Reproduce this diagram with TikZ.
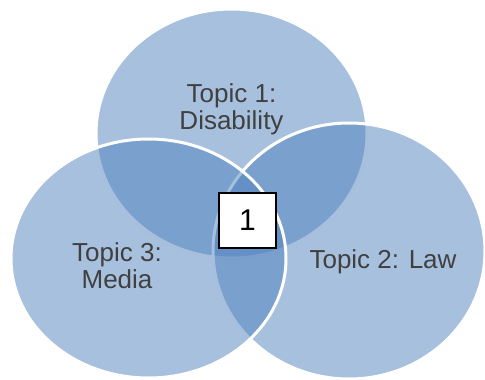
\documentclass[tikz,border=0pt]{standalone}
\usepackage{fontspec}
\setmainfont{Liberation Sans}
\definecolor{vennBlue}{RGB}{79, 129, 189}
\definecolor{labelGray}{RGB}{64, 64, 64}
\usepackage{tikz}
\usetikzlibrary{shapes,positioning}

\tikzset{
    venn/.style={ellipse, fill=vennBlue, fill opacity=0.5, draw=white, line width=3pt, inner sep=0pt},
    topiclabel/.style={text=labelGray, align=center, font=\fontsize{26}{27}\selectfont},
    corebox/.style={draw=black, fill=white, line width=2pt, minimum width=57pt, minimum height=55pt, font=\fontsize{30}{32}\selectfont}
}

\begin{document}
\begin{tikzpicture}[x=1pt,y=-1pt]
                \useasboundingbox (0,0) rectangle (485,380);
                % three overlapping topic sets
                \node[venn, minimum width=271pt, minimum height=249pt] (disability) at (231.5,133.5) {};
                \node[venn, minimum width=272pt, minimum height=256pt] (law) at (349,251) {};
                \node[venn, minimum width=275pt, minimum height=239pt] (media) at (148.5,258.5) {};
                % labels
                \node[topiclabel] (disabilitytext) at (231.5,109) {Topic 1:\\Disability};
                \node[topiclabel, anchor=base] (lawtext) at (383,268) {Topic 2: Law};
                \node[topiclabel] (mediatext) at (117,265.7) {Topic 3:\\Media};
                \node[corebox] (core) at (247.5,220.5) {1};
            \end{tikzpicture}
\end{document}
